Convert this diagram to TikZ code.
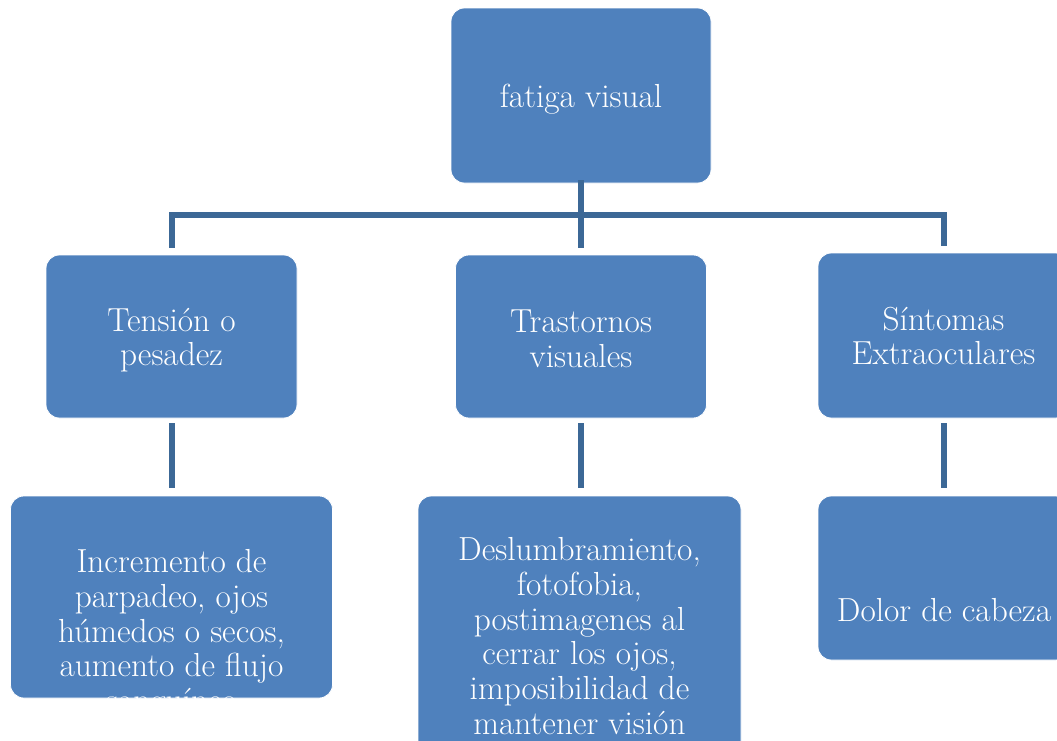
\documentclass[tikz,border=0pt]{standalone}
\usetikzlibrary{calc}
\definecolor{boxblue}{HTML}{4F81BD}
\definecolor{linkblue}{HTML}{3C6896}
\begin{document}
\begin{tikzpicture}[x=0.75pt,y=-0.75pt,
  box/.style={fill=boxblue,draw=white,line width=0.6pt,rounded corners=10pt,inner sep=0pt},
  lbl/.style={text=white,align=center,font=\fontsize{25}{26}\selectfont,inner sep=0pt},
  conn/.style={draw=linkblue,line width=4.5pt}]
\useasboundingbox (0,0) rectangle (1057,740);
\fill[white] (0,0) rectangle (1057,740);
% top
\node[box,minimum width=195pt,minimum height=131.25pt] (top) at (581,95.5) {};
\node[lbl] (topt) at (581,99) {fatiga visual};
% second row
\node[box,minimum width=188.25pt,minimum height=122.25pt] (c1) at (171.5,336.5) {};
\node[box,minimum width=188.25pt,minimum height=122.25pt] (c2) at (581,336.5) {};
\node[box,minimum width=188.25pt,minimum height=123.75pt] (c3) at (943.5,335.5) {};
\node[lbl] (c1t) at (171.5,340) {Tensión o\\pesadez};
\node[lbl] (c2t) at (581,339) {Trastornos\\visuales};
\node[lbl] (c3t) at (943.5,336) {Síntomas\\Extraoculares};
% third row
\node[box,minimum width=241.5pt,minimum height=151.5pt] (d1) at (171.5,597) {};
\node[box,minimum width=242.25pt,minimum height=220.5pt] (d2) at (579.5,643) {};
\node[box,minimum width=188.25pt,minimum height=123pt] (d3) at (943.5,578) {};
\begin{scope}
  \clip[rounded corners=10pt] (d1.south west) rectangle (d1.north east);
  \node[lbl] (d1t) at (171.5,634) {Incremento de\\parpadeo, ojos\\húmedos o secos,\\aumento de flujo\\sanguíneo};
\end{scope}
\begin{scope}
  \clip[rounded corners=10pt] (d2.south west) rectangle (d2.north east);
  \node[lbl] (d2t) at (579.5,636) {Deslumbramiento,\\fotofobia,\\postimagenes al\\cerrar los ojos,\\imposibilidad de\\mantener visión};
\end{scope}
\node[lbl] (d3t) at (944,610) {Dolor de cabeza};
% connectors
\coordinate (bar) at (581,215);
\draw[conn] ($(top.south)+(0,-3)$) -- ($(top.south |- c2.north)+(0,-7)$);
\draw[conn] ($(c1.north)+(0,-7)$) |- (bar) -| ($(c3.north)+(0,-7)$);
\draw[conn] ($(c1.south)+(0,5)$) -- ($(c1.south |- d1.north)+(0,-8)$);
\draw[conn] ($(c2.south)+(0,5)$) -- ($(c2.south |- d2.north)+(0,-8)$);
\draw[conn] ($(c3.south)+(0,5)$) -- ($(c3.south |- d3.north)+(0,-8)$);
\end{tikzpicture}
\end{document}
